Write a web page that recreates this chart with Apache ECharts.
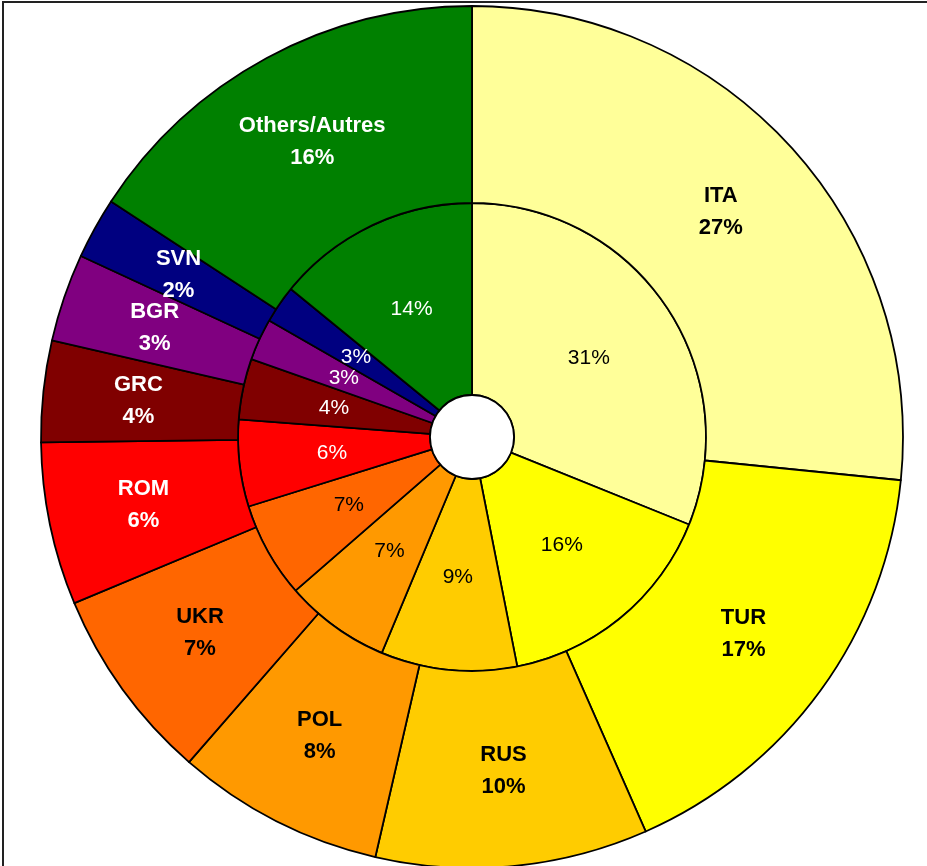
<!DOCTYPE html>
<html lang="en">
<head>
    <meta charset="utf-8">
    <title>Share by country</title>
    <style>
        html, body { margin: 0; padding: 0; background: #fff; }
        #main { width: 927px; height: 866px; }
    </style>
</head>
<body>
<div id="main"></div>

<script src="https://cdn.jsdelivr.net/npm/echarts@6/dist/echarts.min.js"></script>
<script type="text/javascript">
    // categories, clockwise from 12 o'clock
    var countries = ['ITA', 'TUR', 'RUS', 'POL', 'UKR', 'ROM', 'GRC', 'BGR', 'SVN', 'Others/Autres'];
    // outer ring shares (%)
    var outerValues = [26.6, 16.8, 10.2, 7.8, 7.3, 6.1, 3.8, 3.3, 2.3, 15.8];
    // inner ring shares (%)
    var innerValues = [31.1, 15.8, 9.4, 7.3, 6.6, 6.0, 4.2, 2.9, 2.6, 14.1];

    var sliceColors = ['#FFFF99', '#FFFF00', '#FFCC00', '#FF9900', '#FF6600',
                       '#FF0000', '#800000', '#800080', '#000080', '#008000'];
    var whiteText = ['ROM', 'GRC', 'BGR', 'SVN', 'Others/Autres'];

    function buildData(values) {
        return countries.map(function (name, i) {
            return {
                name: name,
                value: values[i],
                itemStyle: { color: sliceColors[i] },
                label: { color: whiteText.indexOf(name) >= 0 ? '#fff' : '#000' }
            };
        });
    }

    var myChart = echarts.init(document.getElementById('main'));

    var sliceBorder = { borderColor: '#000', borderWidth: 1.8 };

    myChart.setOption({
        animation: false,
        backgroundColor: '#fff',
        graphic: [
            {
                type: 'rect',
                shape: { x: 3, y: 2, width: 1000, height: 1000 },
                style: { fill: 'none', stroke: '#222', lineWidth: 2 },
                z: 100
            },
            {
                type: 'circle',
                shape: { cx: 472, cy: 437, r: 42 },
                style: { fill: '#fff', stroke: '#000', lineWidth: 1.8 },
                z: 100
            }
        ],
        series: [
            {
                name: 'inner',
                type: 'pie',
                center: [472, 437],
                radius: [42, 234],
                startAngle: 90,
                clockwise: true,
                avoidLabelOverlap: false,
                labelLayout: { hideOverlap: false },
                itemStyle: sliceBorder,
                label: {
                    show: true,
                    position: 'inside',
                    fontFamily: 'Liberation Sans, Arial, sans-serif',
                    fontSize: 21,
                    formatter: function (p) { return Math.round(p.value) + '%'; }
                },
                labelLine: { show: false },
                emphasis: { disabled: true },
                data: buildData(innerValues)
            },
            {
                name: 'outer',
                type: 'pie',
                center: [472, 437],
                radius: [234, 431],
                startAngle: 90,
                clockwise: true,
                avoidLabelOverlap: false,
                labelLayout: { hideOverlap: false },
                itemStyle: sliceBorder,
                label: {
                    show: true,
                    position: 'inside',
                    fontFamily: 'Liberation Sans, Arial, sans-serif',
                    fontSize: 22,
                    fontWeight: 'bold',
                    lineHeight: 32,
                    formatter: function (p) { return p.name + '\n' + Math.round(p.value) + '%'; }
                },
                labelLine: { show: false },
                emphasis: { disabled: true },
                data: buildData(outerValues)
            }
        ]
    });
</script>
</body>
</html>
